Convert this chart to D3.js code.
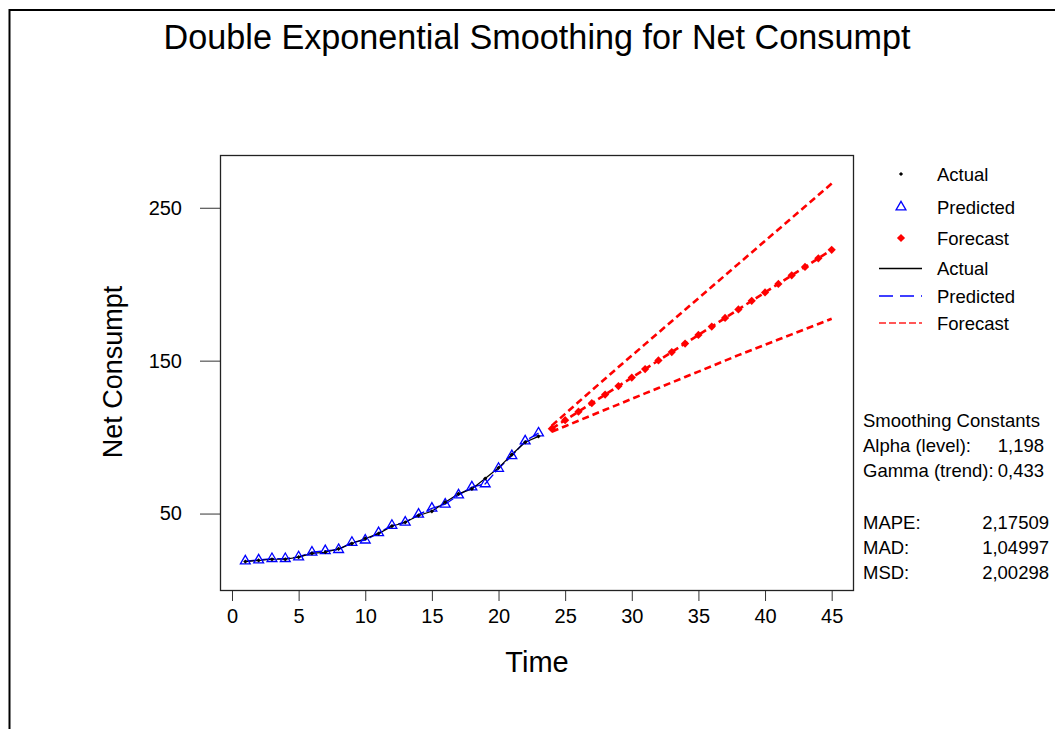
<!DOCTYPE html>
<html lang="en">
<head>
    <meta charset="UTF-8">
    <title>Double Exponential Smoothing for Net Consumpt</title>
    <style>
        body { margin: 0; background: #fff; }
        svg { display: block; font-family: "Liberation Sans", Arial, sans-serif; }
    </style>
    <script src="https://d3js.org/d3.v7.min.js"></script>
</head>
<body>
    <div id="chart"></div>
    <script>
        // observed periods and values
        const timeActual = d3.range(1, 24);
        const actual = [18.6, 19.3, 20.1, 20.1, 21.5, 23.9, 24.7, 26.9, 30.4, 33.7, 36.9, 41.7,
                        44.3, 48.7, 51.5, 57.4, 62.9, 66.1, 72.9, 79.9, 88.6, 96.6, 100.5];
        const predicted = [18.9, 19.6, 20.5, 20.5, 21.6, 24.7, 25.6, 26.4, 31.1, 32.6, 37.4, 42.2,
                           44.3, 49.5, 53.4, 56.1, 62.1, 67.3, 69.4, 79.5, 87.8, 97.4, 102.6];
        // forecast horizon
        const timeForecast = d3.range(24, 46);
        const forecast = [105.5, 111.1, 116.6, 122.2, 127.8, 133.4, 138.9, 144.5, 150.1, 155.6, 161.2,
                          166.8, 172.3, 177.9, 183.5, 189.1, 194.6, 200.2, 205.8, 211.3, 216.9, 222.5];
        const upper = [107.5, 115.2, 122.9, 130.6, 138.2, 145.8, 153.3, 160.8, 168.3, 175.8, 183.3,
                       190.8, 198.3, 205.8, 213.3, 220.8, 228.3, 235.8, 243.3, 250.8, 258.3, 265.8];
        const lower = [103.5, 107.1, 110.7, 114.3, 117.9, 121.4, 125.0, 128.6, 132.1, 135.7, 139.3,
                       142.8, 146.4, 150.0, 153.6, 157.0, 160.4, 163.8, 167.2, 170.6, 174.0, 177.4];

        const xTicks = [0, 5, 10, 15, 20, 25, 30, 35, 40, 45];
        const yTicks = [50, 150, 250];

        const statLabels = ["Alpha (level):", "Gamma (trend):", "MAPE:", "MAD:", "MSD:"];
        const statValues = ["1,198", "0,433", "2,17509", "1,04997", "2,00298"];

        const W = 1055, H = 729;
        const box = {left: 220, top: 155, right: 853, bottom: 590};

        const svg = d3.select("#chart").append("svg")
            .attr("width", W).attr("height", H);

        // outer frame
        svg.append("rect")
            .attr("x", 9.5).attr("y", 10).attr("width", W + 20).attr("height", H + 20)
            .attr("fill", "none").attr("stroke", "#000").attr("stroke-width", 2);

        svg.append("text")
            .attr("x", 537).attr("y", 49)
            .attr("text-anchor", "middle")
            .attr("font-size", 34.2)
            .text("Double Exponential Smoothing for Net Consumpt");

        const x = d3.scaleLinear().domain([-0.9, 46.6]).range([box.left, box.right]);
        const y = d3.scaleLinear().domain([0, 284.5]).range([box.bottom, box.top]);

        // axes
        const xAxis = svg.append("g")
            .attr("transform", `translate(0,${box.bottom})`)
            .call(d3.axisBottom(x).tickValues(xTicks).tickSize(11).tickPadding(8));
        xAxis.select(".domain").remove();
        xAxis.selectAll("line").attr("stroke", "#333");
        xAxis.selectAll("text").attr("font-size", 20).attr("fill", "#000")
            .attr("font-family", "Liberation Sans, Arial, sans-serif");

        const yAxis = svg.append("g")
            .attr("transform", `translate(${box.left},0)`)
            .call(d3.axisLeft(y).tickValues(yTicks).tickSize(20).tickPadding(18));
        yAxis.select(".domain").remove();
        yAxis.selectAll("line").attr("stroke", "#333");
        yAxis.selectAll("text").attr("font-size", 20).attr("fill", "#000")
            .attr("font-family", "Liberation Sans, Arial, sans-serif");

        svg.append("rect")
            .attr("x", box.left + 0.5).attr("y", box.top + 0.5)
            .attr("width", box.right - box.left).attr("height", box.bottom - box.top)
            .attr("fill", "none").attr("stroke", "#222").attr("stroke-width", 1.3);

        svg.append("text")
            .attr("x", 537).attr("y", 672)
            .attr("text-anchor", "middle").attr("font-size", 29)
            .text("Time");

        svg.append("text")
            .attr("transform", "translate(122,372) rotate(-90)")
            .attr("text-anchor", "middle").attr("font-size", 27)
            .text("Net Consumpt");

        const line = d3.line().x(d => x(d[0])).y(d => y(d[1]));
        const plot = svg.append("g");

        const zip = (ts, vs) => ts.map((t, i) => [t, vs[i]]);

        // predicted: long blue dashes
        plot.append("path")
            .attr("d", line(zip(timeActual, predicted)))
            .attr("fill", "none").attr("stroke", "#0000ff").attr("stroke-width", 1.4)
            .attr("stroke-dasharray", "13,3");

        // actual: solid black
        plot.append("path")
            .attr("d", line(zip(timeActual, actual)))
            .attr("fill", "none").attr("stroke", "#000").attr("stroke-width", 1.2);

        // forecast and limits: short red dashes
        [forecast, upper, lower].forEach(vals => {
            plot.append("path")
                .attr("d", line(zip(timeForecast, vals)))
                .attr("fill", "none").attr("stroke", "#ff0000").attr("stroke-width", 2.6)
                .attr("stroke-dasharray", "7,4");
        });

        const tri = d3.symbol().type(d3.symbolTriangle).size(42);
        const dia = d3.symbol().type(d3.symbolSquare).size(34);
        const dot = d3.symbol().type(d3.symbolSquare).size(9);

        plot.selectAll(".pred").data(zip(timeActual, predicted)).join("path")
            .attr("class", "pred")
            .attr("d", tri)
            .attr("transform", d => `translate(${x(d[0])},${y(d[1])})`)
            .attr("fill", "none").attr("stroke", "#0000ff").attr("stroke-width", 1.3);

        plot.selectAll(".act").data(zip(timeActual, actual)).join("path")
            .attr("class", "act")
            .attr("d", dot)
            .attr("transform", d => `translate(${x(d[0])},${y(d[1])}) rotate(45)`)
            .attr("fill", "#000");

        plot.selectAll(".fc").data(zip(timeForecast, forecast)).join("path")
            .attr("class", "fc")
            .attr("d", dia)
            .attr("transform", d => `translate(${x(d[0])},${y(d[1])}) rotate(45)`)
            .attr("fill", "#ff0000");

        // legend
        const lg = svg.append("g").attr("font-size", 18.5);
        const symRows = [
            {label: "Actual", y: 174, sym: dot, fill: "#000", stroke: "none", rot: 45},
            {label: "Predicted", y: 207, sym: tri, fill: "none", stroke: "#0000ff", rot: 0},
            {label: "Forecast", y: 238, sym: dia, fill: "#ff0000", stroke: "none", rot: 45}
        ];
        symRows.forEach(r => {
            lg.append("path").attr("d", r.sym)
                .attr("transform", `translate(901,${r.y}) rotate(${r.rot})`)
                .attr("fill", r.fill).attr("stroke", r.stroke).attr("stroke-width", 1.3);
            lg.append("text").attr("x", 937).attr("y", r.y + 6.5).text(r.label);
        });
        const lineRows = [
            {label: "Actual", y: 268.5, color: "#000", dash: null},
            {label: "Predicted", y: 296, color: "#0000ff", dash: "14,7"},
            {label: "Forecast", y: 323, color: "#ff2020", dash: "7,3"}
        ];
        lineRows.forEach(r => {
            lg.append("line").attr("x1", 879).attr("x2", 922)
                .attr("y1", r.y).attr("y2", r.y)
                .attr("stroke", r.color).attr("stroke-width", 1.6)
                .attr("stroke-dasharray", r.dash);
            lg.append("text").attr("x", 937).attr("y", r.y + 6.5).text(r.label);
        });

        // smoothing constants and accuracy measures
        const st = svg.append("g").attr("font-size", 18.5);
        st.append("text").attr("x", 863).attr("y", 427).text("Smoothing Constants");
        const statY = [452, 477, 529, 554, 579];
        const statRight = [1044, 1044, 1049, 1049, 1049];
        statLabels.forEach((lab, i) => {
            st.append("text").attr("x", 863).attr("y", statY[i]).text(lab);
            st.append("text").attr("x", statRight[i]).attr("y", statY[i])
                .attr("text-anchor", "end")
                .attr("font-family", "'Liberation Sans Narrow', 'Liberation Sans', Arial, sans-serif")
                .attr("font-size", 18.5).text(statValues[i]);
        });
    </script>
</body>
</html>
